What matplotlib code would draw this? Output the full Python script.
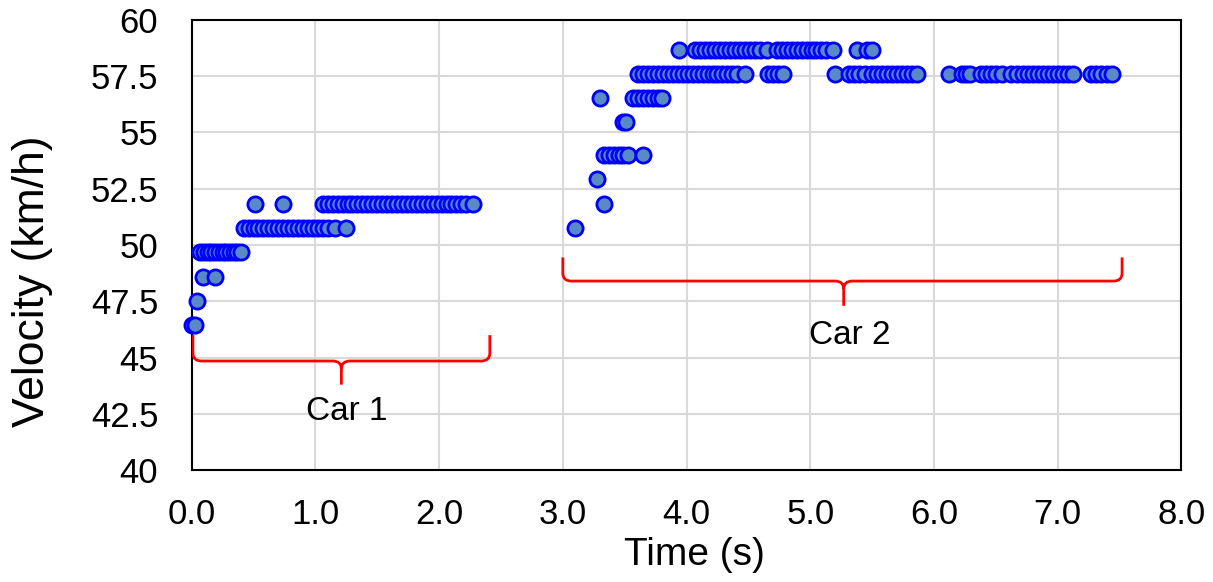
import matplotlib
matplotlib.use("Agg")
import matplotlib.pyplot as plt
from matplotlib.path import Path
from matplotlib.patches import PathPatch

plt.rcParams["font.family"] = ["Liberation Sans", "DejaVu Sans"]

# velocity levels (km/h) and the times (s) at which each level was recorded
car1_t = {
    46.44: [0.0, 0.03],
    47.52: [0.04],
    48.60: [0.09, 0.19],
    49.68: [0.07, 0.10, 0.13, 0.16, 0.19, 0.22, 0.25, 0.28, 0.31, 0.34, 0.37, 0.40],
    50.76: [0.42, 0.46, 0.50, 0.54, 0.58, 0.62, 0.66, 0.70, 0.74, 0.78, 0.82, 0.86,
            0.90, 0.94, 0.98, 1.02, 1.06, 1.10, 1.16, 1.25],
    51.84: [0.51, 0.74, 1.06, 1.10, 1.14, 1.18, 1.22, 1.26, 1.30, 1.34, 1.38, 1.42,
            1.46, 1.50, 1.54, 1.58, 1.62, 1.66, 1.70, 1.74, 1.78, 1.82, 1.86, 1.90,
            1.94, 1.98, 2.02, 2.06, 2.10, 2.14, 2.18, 2.22, 2.27],
}
car2_t = {
    50.76: [3.10],
    51.84: [3.33],
    52.92: [3.28],
    54.00: [3.33, 3.37, 3.41, 3.45, 3.49, 3.53, 3.65],
    55.44: [3.49, 3.51],
    56.52: [3.30, 3.57, 3.61, 3.65, 3.69, 3.73, 3.77, 3.80],
    57.60: [3.61, 3.65, 3.69, 3.73, 3.77, 3.81, 3.85, 3.89, 3.93, 3.97, 4.01, 4.05,
            4.09, 4.13, 4.17, 4.21, 4.25, 4.29, 4.33, 4.37, 4.41, 4.47,
            4.66, 4.70, 4.74, 4.78, 5.20, 5.31, 5.35, 5.39, 5.44,
            5.50, 5.54, 5.58, 5.62, 5.66, 5.70, 5.74, 5.78, 5.82, 5.86,
            6.12, 6.23, 6.26, 6.29, 6.38, 6.42, 6.46, 6.50, 6.55, 6.62, 6.67,
            6.72, 6.76, 6.80, 6.84, 6.88, 6.92, 6.96, 7.00, 7.04, 7.08, 7.12,
            7.27, 7.31, 7.35, 7.40, 7.44],
    58.68: [3.94, 4.07, 4.11, 4.15, 4.19, 4.23, 4.27, 4.31, 4.35, 4.39, 4.43, 4.47,
            4.51, 4.55, 4.59, 4.65, 4.73, 4.77, 4.81, 4.85, 4.89, 4.93, 4.97,
            5.01, 5.05, 5.09, 5.13, 5.18, 5.38, 5.46, 5.50],
}

# brace annotations: (x_left, x_right, x_tip, y_end, y_line, y_tip, label, label_x, label_y)
braces = [
    (0.01, 2.41, 1.21, 46.0, 44.85, 43.8, "Car 1", 1.25, 42.6),
    (3.00, 7.52, 5.27, 49.45, 48.4, 47.3, "Car 2", 5.32, 46.0),
]


def brace_path(x0, x1, xm, ye, yl, yt, dx=0.07, dy=0.35):
    verts = [
        (x0, ye), (x0, yl + dy), (x0, yl), (x0 + dx, yl),
        (xm - dx, yl), (xm, yl), (xm, yl - dy), (xm, yt),
        (xm, yl - dy), (xm, yl), (xm + dx, yl),
        (x1 - dx, yl), (x1, yl), (x1, yl + dy), (x1, ye),
    ]
    codes = [
        Path.MOVETO, Path.LINETO, Path.CURVE3, Path.CURVE3,
        Path.LINETO, Path.CURVE3, Path.CURVE3, Path.LINETO,
        Path.MOVETO, Path.CURVE3, Path.CURVE3,
        Path.LINETO, Path.CURVE3, Path.CURVE3, Path.LINETO,
    ]
    return Path(verts, codes)


fig = plt.figure(figsize=(12.13, 5.82), dpi=100)
ax = fig.add_axes([0.158, 0.192, 0.816, 0.774])

for data in (car1_t, car2_t):
    for v, ts in data.items():
        ax.scatter(ts, [v] * len(ts), s=120, facecolor="#5a8ac6",
                   edgecolor="#0000ff", linewidth=2.0, zorder=3, clip_on=False)

for x0, x1, xm, ye, yl, yt, label, lx, ly in braces:
    ax.add_patch(PathPatch(brace_path(x0, x1, xm, ye, yl, yt), facecolor="none",
                           edgecolor="#ff0000", linewidth=2.0, zorder=4))
    ax.text(lx, ly, label, fontsize=24, ha="center", va="center")

ax.set_xlim(0, 8)
ax.set_ylim(40, 60)
ax.set_xticks(range(0, 9))
ax.set_xticklabels([f"{i:.1f}" for i in range(0, 9)])
ax.set_yticks([40, 42.5, 45, 47.5, 50, 52.5, 55, 57.5, 60])
ax.set_yticklabels(["40", "42.5", "45", "47.5", "50", "52.5", "55", "57.5", "60"])
ax.tick_params(length=0, labelsize=25)
ax.tick_params(axis="y", pad=24)
ax.tick_params(axis="x", pad=20)
ax.grid(True, color="#d9d9d9", linewidth=1.5)
ax.set_axisbelow(True)
for sp in ax.spines.values():
    sp.set_color("black")
    sp.set_linewidth(1.5)

fig.text(694 / 1213, 1 - 555 / 582, "Time (s)", fontsize=28, ha="center", va="center")
fig.text(33 / 1213, 1 - 281 / 582, "Velocity (km/h)", fontsize=32, ha="center",
         va="center", rotation=90)

fig.savefig("out.png", dpi=100)
